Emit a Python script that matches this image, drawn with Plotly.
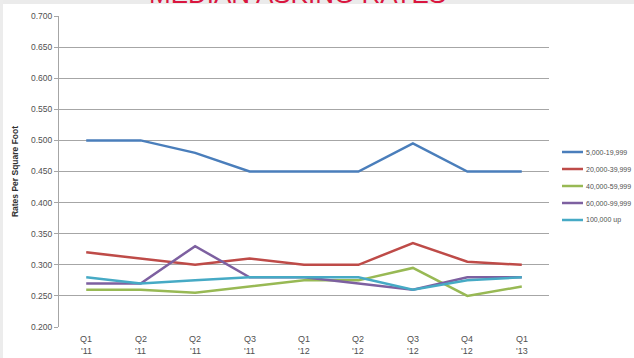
import plotly.graph_objects as go

# Quarter labels (the third period is labelled Q2 '11 in the source report)
quarter_names = ["Q1", "Q2", "Q2", "Q3", "Q1", "Q2", "Q3", "Q4", "Q1"]
quarter_years = ["'11", "'11", "'11", "'11", "'12", "'12", "'12", "'12", "'13"]

size_5k_20k = [0.500, 0.500, 0.480, 0.450, 0.450, 0.450, 0.495, 0.450, 0.450]
size_20k_40k = [0.320, 0.310, 0.300, 0.310, 0.300, 0.300, 0.335, 0.305, 0.300]
size_40k_60k = [0.260, 0.260, 0.255, 0.265, 0.275, 0.275, 0.295, 0.250, 0.265]
size_60k_100k = [0.270, 0.270, 0.330, 0.280, 0.280, 0.270, 0.260, 0.280, 0.280]
size_100k_up = [0.280, 0.270, 0.275, 0.280, 0.280, 0.280, 0.260, 0.275, 0.280]

series_names = ["5,000-19,999", "20,000-39,999", "40,000-59,999",
                "60,000-99,999", "100,000 up"]
series_values = [size_5k_20k, size_20k_40k, size_40k_60k, size_60k_100k, size_100k_up]
series_colors = ["#4a7ebb", "#be4b48", "#98b954", "#7d60a0", "#46aac5"]

y_ticks = [0.2, 0.25, 0.3, 0.35, 0.4, 0.45, 0.5, 0.55, 0.6, 0.65, 0.7]
y_tick_text = ["%.3f" % v for v in y_ticks]

W, H = 634, 358
ML, MR, MT, MB = 59, 85, 16, 31
FONT = "Liberation Sans Narrow, Liberation Sans, Arial, sans-serif"

x_pos = list(range(len(quarter_names)))
pw = W - ML - MR
ph = H - MT - MB


def px_x(px):
    return (px - ML) / pw


def px_y(py):
    return (H - MB - py) / ph


fig = go.Figure()
for name, vals, col in zip(series_names, series_values, series_colors):
    fig.add_trace(go.Scatter(
        x=x_pos, y=vals, name=name, mode="lines",
        line=dict(color=col, width=2.5), showlegend=False,
    ))

fig.update_layout(
    width=W, height=H,
    margin=dict(l=ML, r=MR, t=MT, b=MB, pad=0),
    paper_bgcolor="white", plot_bgcolor="white",
    font=dict(family=FONT, color="#404040", size=8),
    xaxis=dict(
        range=[-0.5, len(quarter_names) - 0.5],
        showticklabels=False,
        showgrid=False, zeroline=False, showline=False, ticks="",
    ),
    yaxis=dict(
        range=[0.2, 0.7],
        tickmode="array", tickvals=y_ticks, ticktext=y_tick_text,
        showgrid=True, gridcolor="#a6a6a6", gridwidth=1.2,
        zeroline=False, showline=True, linecolor="#a6a6a6", linewidth=1.2,
        ticks="outside", ticklen=4, tickcolor="#a6a6a6",
        tickfont=dict(size=8.5, color="#505050"),
        title=dict(text="<b>Rates Per Square Foot</b>",
                   font=dict(size=8.5, color="#303030"), standoff=10),
    ),
)

# Two-line category labels below the axis
for i, (q, yr) in enumerate(zip(quarter_names, quarter_years)):
    for txt, py in ((q, 339), (yr, 351)):
        fig.add_annotation(
            text=txt, x=i, xref="x", y=px_y(py), yref="paper",
            xanchor="center", yanchor="middle", showarrow=False,
            font=dict(size=9, color="#505050", family=FONT),
        )

# Legend drawn to the right of the plot
for k, (name, col) in enumerate(zip(series_names, series_colors)):
    py = 152 + k * 17
    fig.add_shape(type="line", xref="paper", yref="paper",
                  x0=px_x(562), x1=px_x(583), y0=px_y(py), y1=px_y(py),
                  line=dict(color=col, width=2.5))
    fig.add_annotation(
        text=name, x=px_x(584), xref="paper", y=px_y(py), yref="paper",
        xanchor="left", yanchor="middle", showarrow=False,
        font=dict(size=7, color="#505050", family=FONT),
    )

# Thin grey frame along the top and left edges of the page
fig.add_shape(type="rect", xref="paper", yref="paper", layer="below",
              x0=px_x(0), x1=px_x(W), y0=px_y(4), y1=px_y(0),
              line=dict(width=0), fillcolor="#ebebeb")
fig.add_shape(type="rect", xref="paper", yref="paper", layer="below",
              x0=px_x(0), x1=px_x(3), y0=px_y(H), y1=px_y(0),
              line=dict(width=0), fillcolor="#ececec")

# Page heading, partly above the top edge
fig.add_annotation(
    text="MEDIAN ASKING RATES", xref="paper", yref="paper",
    x=px_x(297), y=px_y(11), xanchor="center", yanchor="bottom",
    showarrow=False, font=dict(size=26, color="#d9163f",
                               family="Liberation Sans, Arial, sans-serif"),
)

fig.write_html("out.html")
